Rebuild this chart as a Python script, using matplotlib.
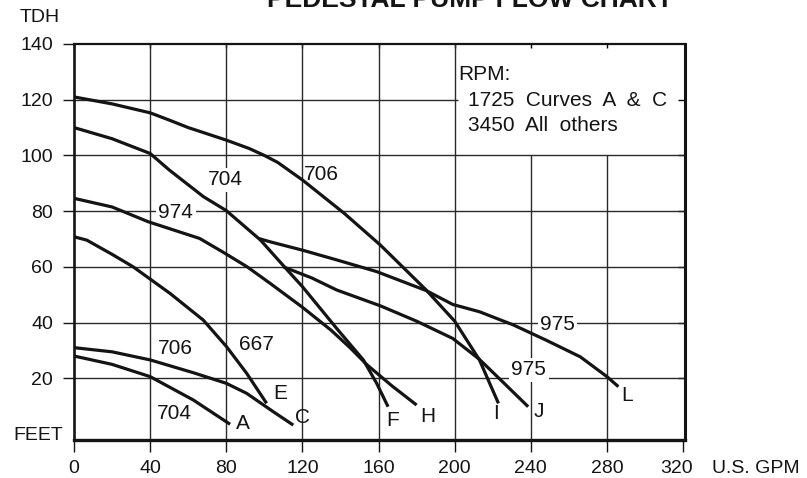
"""
Pedestal pump flow chart: TDH (feet) vs flow (U.S. GPM) for each pump curve.
"""
import matplotlib
matplotlib.use("Agg")
import matplotlib.pyplot as plt
from matplotlib.transforms import offset_copy

plt.rcParams["font.family"] = ["Liberation Sans", "DejaVu Sans"]

INK = "#141414"
GRIDC = "#2a2a2a"

# ── data ─────────────────────────────────────────────────────────────────────
x_i = [0, 20, 40, 50, 60, 80, 92, 100, 107, 120, 142, 161, 185, 200, 213, 223]
y_i = [121, 118.5, 115.3, 112.7, 110, 105.5, 102.5, 100, 97.5, 91.2, 79.2, 67.8, 51.7, 40.5, 26.6, 11]

x_f = [0, 20, 40, 50, 68, 80, 98, 112, 120, 138, 152, 159, 165]
y_f = [110, 106, 100.7, 94.8, 85.2, 80.2, 69.6, 58.9, 52.9, 37.9, 26.6, 18.2, 9.8]

x_h = [0, 20, 39, 66, 78, 91, 103, 120, 135, 145, 154, 167, 180]
y_h = [84.6, 81.5, 76.2, 70.2, 65.4, 60, 54.1, 45.5, 37.3, 31, 24.8, 17.3, 10.4]

x_e = [0, 6.7, 20, 31.1, 50.4, 67.9, 80.2, 90.7, 101.2]
y_e = [70.8, 69.6, 64.5, 60, 50.5, 40.9, 31.3, 21.8, 11]

x_c = [0, 20, 40, 62.7, 80, 90.7, 104.7, 115.2]
y_c = [31, 29.5, 26.6, 22, 18.2, 14.6, 8, 3.2]

x_a = [0, 20, 40, 62.7, 82]
y_a = [28, 25, 20.6, 12.2, 3.5]

x_l = [97, 103, 120, 138, 159, 185, 199, 213, 231, 248, 266, 280, 286]
y_l = [70.2, 69, 66, 62.5, 58.3, 51.5, 46.5, 43.9, 39.1, 33.7, 27.7, 20.6, 17]

x_j = [110, 125, 138, 161, 180, 199, 213, 226, 238.6]
y_j = [60, 56, 51.7, 46, 40.5, 34.3, 26.8, 18.2, 9.8]

curves = [(x_i, y_i), (x_f, y_f), (x_h, y_h), (x_e, y_e),
          (x_c, y_c), (x_a, y_a), (x_l, y_l), (x_j, y_j)]

# model numbers written along the curves (text, x, y, white box?)
model_labels = [("704", 79.3, 91.2, True), ("974", 53.5, 79.5, True),
                ("706", 120.8, 93.3, False), ("706", 53.5, 30.8, False),
                ("667", 96.0, 32.3, False), ("704", 52.5, 7.2, False),
                ("975", 254.0, 39.4, True), ("975", 239.0, 23.0, True)]

# curve end letters
end_labels = [("A", 88.9, 3.6), ("C", 120.1, 5.9), ("E", 108.2, 14.4),
              ("F", 167.3, 5.0), ("H", 186.1, 6.2), ("I", 221.6, 7.2),
              ("J", 244.2, 8.0), ("L", 290.7, 14.0)]

x_ticks = [0, 40, 80, 120, 160, 200, 240, 280, 320]
y_ticks = [20, 40, 60, 80, 100, 120, 140]

# ── figure ───────────────────────────────────────────────────────────────────
fig = plt.figure(figsize=(8.07, 4.78), dpi=100, facecolor="white")
ax = fig.add_axes([74 / 807, 38 / 478, 611 / 807, 396 / 478])
ax.set_xlim(0, 321)
ax.set_ylim(-2.15, 140)

# grid: the RPM note box (x>200, y>100) is kept clear
for xv in x_ticks[1:-1]:
    top = 100 if xv > 200 else 140
    ax.vlines(xv, -2.15, top, color=GRIDC, lw=1.0, zorder=1)
for yv in y_ticks[:-1]:
    right = 201.5 if yv > 100 else 321
    ax.hlines(yv, 0, right, color=GRIDC, lw=1.0, zorder=1)

for xs, ys in curves:
    ax.plot(xs, ys, color=INK, lw=2.3, solid_capstyle="butt",
            solid_joinstyle="round", zorder=3)

for txt, xv, yv, boxed in model_labels:
    ha = "left" if txt == "706" and xv > 100 else "center"
    kw = dict(bbox=dict(boxstyle="square,pad=0.12", fc="white", ec="none")) if boxed else {}
    ax.text(xv, yv, txt, fontsize=15, color=INK, ha=ha, va="center", zorder=2, **kw)

for txt, xv, yv in end_labels:
    ax.text(xv, yv, txt, fontsize=15, color=INK, ha="center", va="center", zorder=2)

# RPM note
ax.text(201.7, 128.9, "RPM:", fontsize=15, color=INK, ha="left", va="center")
ax.text(207, 119.7, "1725  Curves  A  &  C", fontsize=15, color=INK, ha="left", va="center")
ax.text(207, 110.9, "3450  All  others", fontsize=15, color=INK, ha="left", va="center")

# axes styling
ax.set_xticks(x_ticks)
ax.set_xticklabels([str(v) for v in x_ticks[:-1]] + [""])
ax.set_yticks(y_ticks)
ax.set_yticklabels([str(v) for v in y_ticks])
ax.tick_params(axis="x", direction="out", length=8.5, width=1.0, pad=6,
               labelsize=14, colors=INK)
ax.tick_params(axis="y", direction="out", length=8, width=1.0, pad=7,
               labelsize=14, colors=INK)

top = ax.secondary_xaxis("top")
top.set_xticks(x_ticks[:-1])
top.tick_params(direction="in", length=3, width=1.0, labeltop=False)
top.spines["top"].set_visible(False)
right = ax.secondary_yaxis("right")
right.set_yticks(y_ticks[:-1])
right.tick_params(direction="in", length=5, width=1.0, labelright=False)
right.spines["right"].set_visible(False)

ax.spines["left"].set_linewidth(1.9)
ax.spines["bottom"].set_linewidth(2.4)
ax.spines["right"].set_linewidth(2.2)
ax.spines["top"].set_linewidth(1.6)
for s in ax.spines.values():
    s.set_color(INK)

# last x label sits a little left of its tick, with the unit after it
below = offset_copy(ax.get_xaxis_transform(), fig=fig, x=0, y=-20, units="dots")
ax.text(316.5, 0, str(x_ticks[-1]), fontsize=14, color=INK, ha="center", va="top",
        transform=below, clip_on=False)
ax.text(335, 0, "U.S. GPM", fontsize=14, color=INK, ha="left", va="top",
        transform=below, clip_on=False)

ax.text(-5.8, -0.4, "FEET", fontsize=14, color=INK, ha="right", va="center", clip_on=False)

fig.text(40 / 807, 1 - 18 / 478, "TDH", fontsize=14, color=INK, ha="center", va="center")
fig.text(470 / 807, 1 - 7 / 478, "PEDESTAL PUMP FLOW CHART", fontsize=19,
         fontweight="bold", color=INK, ha="center", va="baseline")

fig.savefig("out.png", dpi=100, facecolor="white")
